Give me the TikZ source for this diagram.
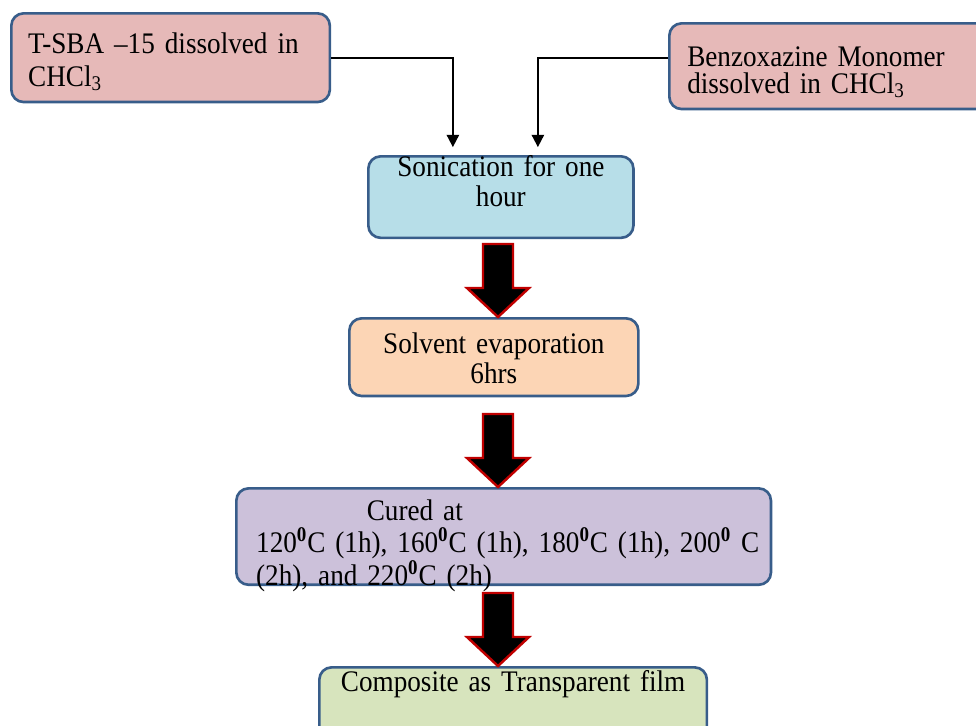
\documentclass[tikz,border=0pt]{standalone}
\usepackage{fontspec}
\setmainfont{Liberation Serif}[FakeStretch=0.91]
\usetikzlibrary{positioning,arrows.meta,calc}
\definecolor{edgeclr}{RGB}{56,93,138}
\definecolor{srcclr}{RGB}{230,185,184}
\definecolor{sonclr}{RGB}{183,222,232}
\definecolor{evapclr}{RGB}{252,213,181}
\definecolor{cureclr}{RGB}{204,193,218}
\definecolor{filmclr}{RGB}{215,228,189}
\definecolor{blockclr}{RGB}{192,0,0}
\tikzset{
  stage/.style={draw=edgeclr,line width=1.5pt,rounded corners=7pt,
                anchor=north west,inner ysep=0pt,
                font=\fontsize{17}{17.5}\selectfont},
  feed/.style={-{Triangle[length=7pt,width=7pt]},line width=1.1pt},
  blockarr/.style={draw=blockclr,line width=1.4pt,fill=black,line join=miter},
}
\newcommand{\dg}{\textsuperscript{\textbf{0}}}
\newcommand{\chcl}{CHCl\textsubscript{3}}
\newcommand{\downblock}[1]{\draw[blockarr] (#1.north -| spine) -- ++(-31,-29)
  -- ++(16,0) -- ++(0,-44) -- ++(30,0) -- ++(0,44) -- ++(16,0) -- cycle;}

\begin{document}
\begin{tikzpicture}[x=0.02cm,y=-0.02cm]
\useasboundingbox (0,0) rectangle (976,725);
\coordinate (spine) at (498,0);
\node[stage, fill=srcclr, align=left, inner xsep=9.6pt, text width=162.1pt,
      text height=22.7pt, text depth=27.8pt,
      font=\fontsize{17}{18.7}\selectfont] (tsba) at (10,12)
  {T-SBA –15 dissolved in\\\chcl};
\node[stage, fill=srcclr, align=left, inner xsep=10.2pt, text width=162.1pt,
      text height=24.4pt, text depth=24.4pt,
      font=\fontsize{17}{15.5}\selectfont] (benz) at (668,22)
  {Benzoxazine Monomer\\dissolved in \chcl};
\node[stage, fill=sonclr, align=center, inner xsep=5.7pt, text width=139.5pt,
      text height=11.3pt, text depth=35.1pt] (sonic) at (367,155)
  {Sonication for one\\hour};
\node[stage, fill=evapclr, align=center, inner xsep=5.7pt, text width=153.1pt,
      text height=19.8pt, text depth=24.4pt] (solv) at (348,317)
  {Solvent evaporation\\6hrs};
\node[stage, fill=cureclr, align=left, inner xsep=11.3pt, text width=281.7pt,
      text height=18.1pt, text depth=36.8pt,
      font=\fontsize{17}{18.7}\selectfont] (cure) at (235,487)
  {\hspace*{63pt}Cured at\\
   \mbox{120\dg C (1h), 160\dg C (1h), 180\dg C (1h), 200\dg{} C}\\
   (2h), and 220\dg C (2h)};
\node[stage, fill=filmclr, align=center, inner xsep=5.7pt, text width=209.2pt,
      text height=13.6pt, text depth=28.9pt] (film) at (318,666)
  {Composite as Transparent film};
\draw[feed, shorten >=4.5pt] (tsba.east) -| ($(sonic.north)+(-48,0)$);
\draw[feed, shorten >=4.5pt] (benz.west |- tsba.east) -| ($(sonic.north)+(37,0)$);
\downblock{solv}
\downblock{cure}
\downblock{film}
\end{tikzpicture}
\end{document}
